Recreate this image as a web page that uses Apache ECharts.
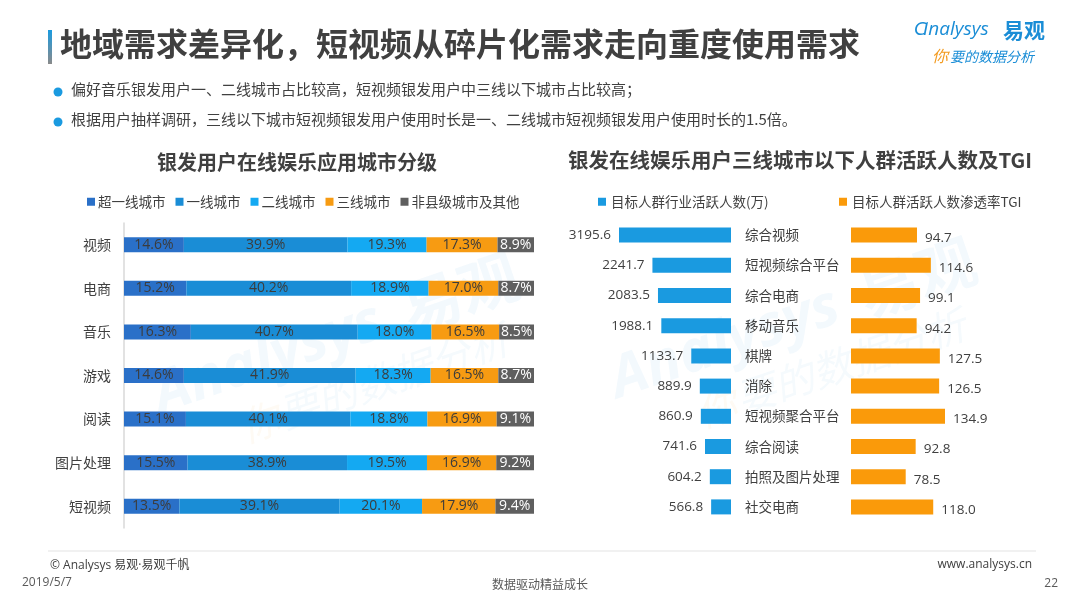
<!DOCTYPE html>
<html>
<head>
<meta charset="utf-8">
<script src="https://cdn.jsdelivr.net/npm/echarts@6/dist/echarts.min.js"></script>
<style>
  html, body { margin: 0; padding: 0; background: #fff; }
  #chart { width: 1080px; height: 607px; }
</style>
</head>
<body>
<div id="chart"></div>
<script>
// left chart: city tier share of silver users per app type
const appTypes = ['视频', '电商', '音乐', '游戏', '阅读', '图片处理', '短视频'];
const tierNames = ['超一线城市', '一线城市', '二线城市', '三线城市', '非县级城市及其他'];
const superTier = [14.6, 15.2, 16.3, 14.6, 15.1, 15.5, 13.5];
const tier1 = [39.9, 40.2, 40.7, 41.9, 40.1, 38.9, 39.1];
const tier2 = [19.3, 18.9, 18.0, 18.3, 18.8, 19.5, 20.1];
const tier3 = [17.3, 17.0, 16.5, 16.5, 16.9, 16.9, 17.9];
const otherTier = [8.9, 8.7, 8.5, 8.7, 9.1, 9.2, 9.4];

// right chart: active users below tier-3 cities and TGI
const industries = ['综合视频', '短视频综合平台', '综合电商', '移动音乐', '棋牌', '消除', '短视频聚合平台', '综合阅读', '拍照及图片处理', '社交电商'];
const activeUsers = [3195.6, 2241.7, 2083.5, 1988.1, 1133.7, 889.9, 860.9, 741.6, 604.2, 566.8];
const tgi = [94.7, 114.6, 99.1, 94.2, 127.5, 126.5, 134.9, 92.8, 78.5, 118.0];

const CJK = '"Noto Sans CJK SC", sans-serif';
const NUM = '"Open Sans", "Noto Sans CJK SC", sans-serif';
const tierColors = ['#2a70c8', '#1a8dd6', '#14a9f2', '#f79b12', '#5f5f5f'];
const tierData = [superTier, tier1, tier2, tier3, otherTier];

const chart = echarts.init(document.getElementById('chart'));

const leftSeries = tierNames.map((name, i) => ({
  name: name,
  type: 'bar',
  stack: 'tier',
  xAxisIndex: 0,
  yAxisIndex: 0,
  barWidth: 15,
  data: tierData[i],
  itemStyle: { color: tierColors[i] },
  label: {
    show: true,
    position: 'inside',
    formatter: p => p.value.toFixed(1) + '%',
    color: i === 4 ? '#ffffff' : '#3c3c3c',
    fontSize: 14,
    fontFamily: NUM
  }
}));

// faint brand watermark, drawn twice behind the charts
function watermark(x, y) {
  return {
    type: 'group',
    x: x,
    y: y,
    rotation: 0.33,
    silent: true,
    z: -10,
    children: [
      { type: 'text', x: 0, y: 0, style: { text: 'Analysys', fontSize: 58, fontWeight: 'bold', fontStyle: 'italic', fill: 'rgba(26,141,214,0.05)', fontFamily: NUM, verticalAlign: 'bottom' } },
      { type: 'text', x: 262, y: 0, style: { text: '易观', fontSize: 60, fontWeight: 'bold', fill: 'rgba(26,141,214,0.05)', fontFamily: CJK, verticalAlign: 'bottom' } },
      { type: 'text', x: 70, y: 48, style: { text: '你', fontSize: 40, fontStyle: 'italic', fill: 'rgba(243,154,30,0.05)', fontFamily: CJK, verticalAlign: 'bottom' } },
      { type: 'text', x: 112, y: 48, style: { text: '要的数据分析', fontSize: 40, fontStyle: 'italic', fill: 'rgba(26,141,214,0.045)', fontFamily: CJK, verticalAlign: 'bottom' } }
    ]
  };
}

const option = {
  backgroundColor: '#fff',
  animation: false,
  legend: [
    {
      data: tierNames,
      left: 82,
      top: 190,
      itemWidth: 8,
      itemHeight: 8,
      itemGap: 10,
      icon: 'rect',
      textStyle: { fontSize: 13.5, color: '#404040', fontFamily: CJK, padding: [0, 0, 0, -2] }
    },
    {
      data: ['目标人群行业活跃人数(万)'],
      left: 593,
      top: 190,
      itemWidth: 8,
      itemHeight: 8,
      icon: 'rect',
      textStyle: { fontSize: 13.5, color: '#404040', fontFamily: CJK }
    },
    {
      data: ['目标人群活跃人数渗透率TGI'],
      left: 834,
      top: 190,
      itemWidth: 8,
      itemHeight: 8,
      icon: 'rect',
      textStyle: { fontSize: 13.5, color: '#404040', fontFamily: CJK }
    }
  ],
  grid: [
    { left: 124, top: 223, width: 410, height: 305 },
    { left: 619, top: 220, width: 112, height: 302 },
    { left: 851, top: 220, width: 94, height: 302 }
  ],
  xAxis: [
    { gridIndex: 0, type: 'value', min: 0, max: 100, show: false },
    { gridIndex: 1, type: 'value', min: 0, max: 3195.6, inverse: true, show: false },
    { gridIndex: 2, type: 'value', min: 0, max: 134.9, show: false }
  ],
  yAxis: [
    {
      gridIndex: 0,
      type: 'category',
      inverse: true,
      data: appTypes,
      axisLine: { show: true, lineStyle: { color: '#d9d9d9', width: 1.5 } },
      axisTick: { show: false },
      axisLabel: { color: '#404040', fontSize: 14, fontFamily: CJK, margin: 13 }
    },
    {
      gridIndex: 1,
      type: 'category',
      inverse: true,
      position: 'right',
      data: industries,
      axisLine: { show: false },
      axisTick: { show: false },
      axisLabel: { color: '#404040', fontSize: 13.5, fontFamily: CJK, margin: 14, align: 'left' }
    },
    {
      gridIndex: 2,
      type: 'category',
      inverse: true,
      data: industries,
      show: false
    }
  ],
  series: leftSeries.concat([
    {
      name: '目标人群行业活跃人数(万)',
      type: 'bar',
      xAxisIndex: 1,
      yAxisIndex: 1,
      barWidth: 15,
      data: activeUsers,
      itemStyle: { color: '#1a9ae0' },
      label: {
        show: true,
        position: 'left',
        distance: 8,
        formatter: p => p.value.toFixed(1),
        color: '#404040',
        fontSize: 13.5,
        fontFamily: NUM
      }
    },
    {
      name: '目标人群活跃人数渗透率TGI',
      type: 'bar',
      xAxisIndex: 2,
      yAxisIndex: 2,
      barWidth: 15,
      data: tgi,
      itemStyle: { color: '#fa9a0a' },
      label: {
        show: true,
        position: 'right',
        distance: 8,
        offset: [0, 3],
        formatter: p => p.value.toFixed(1),
        color: '#404040',
        fontSize: 13.5,
        fontFamily: NUM
      }
    }
  ]),
  graphic: [
    watermark(165, 425),
    watermark(622, 410),
    // title accent bar
    {
      type: 'rect',
      shape: { x: 48, y: 30, width: 4, height: 34 },
      style: {
        fill: new echarts.graphic.LinearGradient(0, 0, 0, 1, [
          { offset: 0, color: '#1a9be0' },
          { offset: 1, color: '#8a8a8a' }
        ])
      }
    },
    {
      type: 'text',
      left: 60,
      top: 28,
      style: { text: '地域需求差异化，短视频从碎片化需求走向重度使用需求', fontSize: 32, fontWeight: 'bold', fill: '#404040', fontFamily: CJK }
    },
    // bullets
    { type: 'circle', shape: { cx: 58, cy: 92, r: 4.5 }, style: { fill: '#1a9ae0' } },
    { type: 'circle', shape: { cx: 58, cy: 122, r: 4.5 }, style: { fill: '#1a9ae0' } },
    {
      type: 'text', left: 71, top: 82,
      style: { text: '偏好音乐银发用户一、二线城市占比较高，短视频银发用户中三线以下城市占比较高；', fontSize: 15, fill: '#404040', fontFamily: CJK }
    },
    {
      type: 'text', left: 71, top: 112,
      style: { text: '根据用户抽样调研，三线以下城市短视频银发用户使用时长是一、二线城市短视频银发用户使用时长的1.5倍。', fontSize: 15, fill: '#404040', fontFamily: CJK }
    },
    // chart titles
    {
      type: 'text', x: 297, y: 162,
      style: { text: '银发用户在线娱乐应用城市分级', fontSize: 20, fontWeight: 'bold', fill: '#404040', fontFamily: CJK, align: 'center', verticalAlign: 'middle' }
    },
    {
      type: 'text', x: 800, y: 160,
      style: { text: '银发在线娱乐用户三线城市以下人群活跃人数及TGI', fontSize: 20.5, fontWeight: 'bold', fill: '#404040', fontFamily: CJK, align: 'center', verticalAlign: 'middle' }
    },
    // logo
    {
      type: 'text', x: 914, y: 30,
      style: { text: 'Ɑnalysys', fontSize: 19, fontStyle: 'italic', fill: '#1a8dd6', fontFamily: NUM, verticalAlign: 'middle' }
    },
    {
      type: 'text', x: 1003, y: 30,
      style: { text: '易观', fontSize: 21, fontWeight: 'bold', fill: '#1a8dd6', fontFamily: CJK, verticalAlign: 'middle' }
    },
    {
      type: 'text', x: 932, y: 56,
      style: { text: '你', fontSize: 16, fontStyle: 'italic', fill: '#f39a1e', fontFamily: CJK, verticalAlign: 'middle' }
    },
    {
      type: 'text', x: 950, y: 57,
      style: { text: '要的数据分析', fontSize: 14, fontStyle: 'italic', fill: '#1a8dd6', fontFamily: CJK, verticalAlign: 'middle' }
    },
    // footer
    {
      type: 'line',
      shape: { x1: 48, y1: 551, x2: 1036, y2: 551 },
      style: { stroke: '#e3e3e3', lineWidth: 1 }
    },
    {
      type: 'text', x: 50, y: 566,
      style: { text: '© Analysys 易观·易观千帆', fontSize: 12, fill: '#404040', fontFamily: NUM, verticalAlign: 'middle' }
    },
    {
      type: 'text', x: 22, y: 583,
      style: { text: '2019/5/7', fontSize: 12, fill: '#595959', fontFamily: NUM, verticalAlign: 'middle' }
    },
    {
      type: 'text', x: 540, y: 584,
      style: { text: '数据驱动精益成长', fontSize: 12, fill: '#595959', fontFamily: CJK, align: 'center', verticalAlign: 'middle' }
    },
    {
      type: 'text', x: 1032, y: 565,
      style: { text: 'www.analysys.cn', fontSize: 12, fill: '#404040', fontFamily: NUM, align: 'right', verticalAlign: 'middle' }
    },
    {
      type: 'text', x: 1058, y: 584,
      style: { text: '22', fontSize: 12, fill: '#595959', fontFamily: NUM, align: 'right', verticalAlign: 'middle' }
    }
  ]
};

chart.setOption(option);
</script>
</body>
</html>
